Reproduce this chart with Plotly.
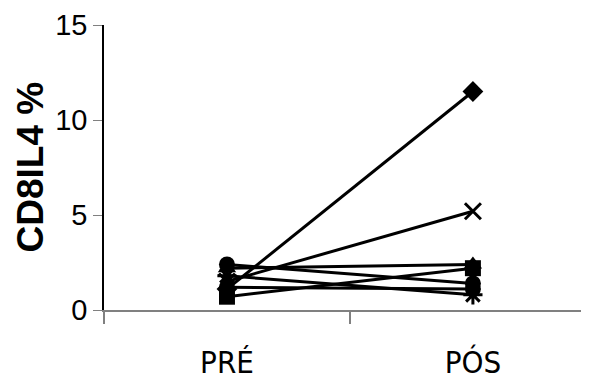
import plotly.graph_objects as go

categories = ["PRÉ", "PÓS"]
series_names = ["P1", "P2", "P3", "P4", "P5", "P6", "P7"]
series_symbols = ["diamond", "x-thin-open", "triangle-up", "circle", "square", "asterisk-open", "circle"]
pre_values = [1.1, 1.5, 2.2, 2.4, 0.7, 1.8, 1.2]
pos_values = [11.5, 5.2, 2.4, 1.4, 2.2, 0.8, 1.1]
y_ticks = [0, 5, 10, 15]

fig = go.Figure()
for name, sym, a, b in zip(series_names, series_symbols, pre_values, pos_values):
    open_sym = sym.endswith("open")
    fig.add_trace(go.Scatter(
        x=categories, y=[a, b], name=name, mode="lines+markers",
        line=dict(color="black", width=3),
        marker=dict(symbol=sym, size=16, color="black",
                    line=dict(color="black", width=3 if open_sym else 0)),
        showlegend=False,
    ))

fig.update_layout(
    width=581, height=373,
    margin=dict(l=96, r=0, t=17, b=71, autoexpand=False),
    paper_bgcolor="white", plot_bgcolor="white",
    font=dict(family="Liberation Sans, Arial, sans-serif", color="black"),
    annotations=[dict(
        text="<b>CD8IL4 %</b>", textangle=-90, xref="paper", yref="paper",
        x=0, y=0.5, xanchor="center", yanchor="middle", xshift=-74,
        showarrow=False, font=dict(size=37, family="Liberation Sans, Arial", color="black"),
    )],
)
fig.update_xaxes(
    type="category", range=[-0.5, 1.472], tickson="boundaries", automargin=False,
    ticks="outside", ticklen=12, tickwidth=1.5, tickcolor="#808080",
    showline=True, linecolor="#808080", linewidth=2, showgrid=False, zeroline=False,
    ticklabelstandoff=24,
    tickfont=dict(size=31, family="DejaVu Sans Condensed, Liberation Sans Narrow, Liberation Sans", color="black"),
)
fig.update_yaxes(
    range=[0, 15], tickvals=y_ticks, ticks="outside", ticklen=9, tickwidth=1,
    tickcolor="#808080", showline=True, linecolor="black", linewidth=1.5,
    showgrid=False, zeroline=False, automargin=False,
    tickfont=dict(size=29, color="black"),
)
fig.write_html("out.html")
